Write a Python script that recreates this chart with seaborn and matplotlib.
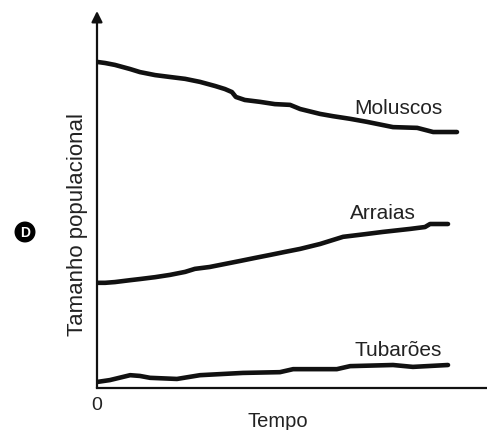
import numpy as np
import pandas as pd
import matplotlib
matplotlib.use("Agg")
import matplotlib.pyplot as plt
import seaborn as sns

# valores (tempo e tamanho em unidades relativas 0-100)
moluscos_t = [0, 2.1, 4.6, 8.5, 11.0, 14.9, 18.7, 22.6, 26.4, 30.3, 32.8, 34.6, 35.6,
              37.9, 41.8, 45.6, 49.5, 52.1, 57.2, 60.5, 64.9, 69.2, 75.9, 82.1, 86.2, 92.3]
moluscos_n = [86.5, 86.2, 85.7, 84.6, 83.8, 83.0, 82.5, 82.0, 81.2, 80.1, 79.3, 78.5, 77.2,
              76.4, 75.9, 75.3, 75.1, 74.0, 72.7, 72.1, 71.4, 70.6, 69.2, 69.0, 67.9, 67.9]

arraias_t = [0, 2.1, 4.6, 8.5, 11.0, 14.9, 18.7, 22.6, 25.1, 28.9, 32.8, 36.7,
             40.5, 44.4, 48.2, 52.1, 57.2, 63.1, 68.7, 73.3, 80.3, 84.1, 85.4, 90.0]
arraias_n = [27.9, 27.9, 28.1, 28.6, 28.9, 29.4, 30.0, 30.8, 31.6, 32.1, 32.9, 33.7,
             34.5, 35.3, 36.1, 36.9, 38.2, 40.1, 40.8, 41.4, 42.2, 42.7, 43.5, 43.5]

tubaroes_t = [0, 3.3, 8.5, 11.0, 13.6, 20.5, 26.4, 37.4, 46.9, 50.3, 61.5, 64.9, 75.9, 81.0, 90.0]
tubaroes_n = [1.6, 2.1, 3.4, 3.2, 2.7, 2.4, 3.4, 4.0, 4.2, 5.0, 5.0, 5.8, 6.1, 5.6, 6.1]

series = ["Moluscos", "Arraias", "Tubarões"]

df = pd.concat([
    pd.DataFrame({"tempo": moluscos_t, "tamanho": moluscos_n, "grupo": "Moluscos"}),
    pd.DataFrame({"tempo": arraias_t, "tamanho": arraias_n, "grupo": "Arraias"}),
    pd.DataFrame({"tempo": tubaroes_t, "tamanho": tubaroes_n, "grupo": "Tubarões"}),
])

sns.set_style("white")
plt.rcParams["font.family"] = ["Liberation Sans", "DejaVu Sans"]

fig = plt.figure(figsize=(4.87, 4.31), dpi=100)
ax = fig.add_axes([97 / 487, 42 / 431, 390 / 487, 377 / 431])

sns.lineplot(data=df, x="tempo", y="tamanho", units="grupo", estimator=None,
             sort=False, color="#111111", linewidth=3.3, ax=ax, legend=False)

ax.set_xlim(0, 100)
ax.set_ylim(0, 100)
ax.set_xticks([])
ax.set_yticks([])
ax.set_xlabel("")
ax.set_ylabel("")
for s in ["top", "right", "left"]:
    ax.spines[s].set_visible(False)
ax.spines["bottom"].set_linewidth(1.6)
ax.spines["bottom"].set_color("#111111")

# eixo vertical com seta
ax.annotate("", xy=(0, 1), xytext=(0, 0), xycoords="axes fraction",
            arrowprops=dict(arrowstyle="-|>", lw=1.6, color="#111111", mutation_scale=16,
                            shrinkA=0, shrinkB=0))

# rótulos das curvas
label_pos = {"Moluscos": (77.2, 74.5), "Arraias": (73.3, 46.6), "Tubarões": (77.2, 10.3)}
for name in series:
    x, y = label_pos[name]
    ax.text(x, y, name, ha="center", va="center", fontsize=15, color="#222222")

fig.text(97 / 487, 1 - 406 / 431, "0", ha="center", va="center", fontsize=14, color="#222222")
fig.text(278 / 487, 1 - 422 / 431, "Tempo", ha="center", va="center", fontsize=14.5, color="#222222")
fig.text(77 / 487, 1 - 225 / 431, "Tamanho populacional", ha="center", va="center",
         rotation=90, fontsize=16, color="#222222")
fig.text(25 / 487, 1 - 233 / 431, "D", ha="center", va="center", fontsize=10,
         fontweight="bold", color="white",
         bbox=dict(boxstyle="circle,pad=0.2", fc="black", ec="black"))

fig.savefig("out.png", dpi=100)
